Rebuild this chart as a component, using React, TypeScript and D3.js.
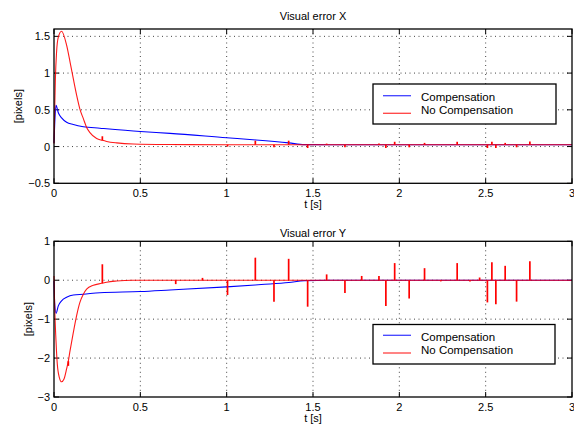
import React, { useEffect, useRef } from "react";
import * as d3 from "d3";

// time axis ticks (s)
const timeTicks = [0, 0.5, 1, 1.5, 2, 2.5, 3];
const errXTicks = [-0.5, 0, 0.5, 1, 1.5];
const errYTicks = [-3, -2, -1, 0, 1];
const seriesNames = ["Compensation", "No Compensation"];

// Visual error X, [t, pixels]
const compX: [number, number][] = [
  [0, 0.05], [0.004, 0.3], [0.0116, 0.56], [0.025, 0.46], [0.044, 0.39], [0.073, 0.33],
  [0.112, 0.3], [0.17, 0.27], [0.266, 0.25], [0.5, 0.205], [0.672, 0.18], [1.0, 0.12],
  [1.17, 0.09], [1.36, 0.05], [1.45, 0.027], [1.6, 0.025], [3.0, 0.025],
];
const noCompX: [number, number][] = [
  [0, 0.04], [0.004, 0.51], [0.008, 0.92], [0.015, 1.29], [0.025, 1.49], [0.044, 1.57],
  [0.073, 1.38], [0.093, 1.15], [0.112, 0.92], [0.131, 0.7], [0.15, 0.51], [0.17, 0.38],
  [0.189, 0.26], [0.208, 0.19], [0.247, 0.11], [0.28, 0.085], [0.305, 0.07], [0.363, 0.05],
  [0.46, 0.035], [0.67, 0.028], [1.0, 0.025], [3.0, 0.025],
];
// [t, base, peak]
const spikesX: [number, number, number][] = [
  [0.28, 0.085, 0.14], [0.705, 0.028, 0.02], [1.005, 0.025, 0.0], [1.166, 0.025, 0.08],
  [1.274, 0.025, -0.01], [1.359, 0.025, 0.08], [1.469, 0.025, -0.02], [1.579, 0.025, 0.04],
  [1.685, 0.025, -0.01], [1.882, 0.025, 0.04], [1.922, 0.025, -0.02], [1.973, 0.025, 0.065],
  [2.057, 0.025, -0.01], [2.146, 0.025, 0.05], [2.335, 0.025, 0.065], [2.51, 0.025, -0.02],
  [2.536, 0.025, 0.065], [2.559, 0.025, -0.02], [2.613, 0.025, 0.05], [2.679, 0.025, -0.01],
  [2.756, 0.025, 0.07],
];

// Visual error Y, [t, pixels]
const compY: [number, number][] = [
  [0, -0.02], [0.004, -0.6], [0.0116, -0.85], [0.025, -0.66], [0.044, -0.53], [0.073, -0.44],
  [0.112, -0.38], [0.17, -0.36], [0.266, -0.32], [0.5, -0.29], [0.672, -0.25], [1.0, -0.17],
  [1.2, -0.11], [1.36, -0.06], [1.45, -0.01], [1.6, 0], [3.0, 0],
];
const noCompY: [number, number][] = [
  [0, 0.11], [0.004, -0.7], [0.0116, -1.56], [0.019, -2.15], [0.031, -2.5], [0.044, -2.61],
  [0.058, -2.54], [0.073, -2.28], [0.082, -2.1], [0.093, -1.81], [0.112, -1.34], [0.131, -0.91],
  [0.15, -0.57], [0.17, -0.36], [0.189, -0.23], [0.228, -0.13], [0.276, -0.08], [0.305, -0.05],
  [0.363, -0.02], [0.45, 0], [3.0, 0],
];
const spikesY: [number, number, number][] = [
  [0.083, -2.08, -2.2], [0.28, -0.075, 0.41], [0.705, 0, -0.1], [0.86, 0, 0.06],
  [1.005, 0, -0.38], [1.166, 0, 0.58], [1.274, 0, -0.55], [1.359, 0, 0.55], [1.469, 0, -0.68],
  [1.579, 0, 0.15], [1.685, 0, -0.33], [1.782, 0, 0.11], [1.882, 0, 0.11], [1.922, 0, -0.66],
  [1.973, 0, 0.44], [2.057, 0, -0.47], [2.146, 0, 0.31], [2.24, 0, -0.03], [2.335, 0, 0.44],
  [2.409, 0, -0.03], [2.465, 0, 0.07], [2.51, 0, -0.57], [2.536, 0, 0.46], [2.559, 0, -0.62],
  [2.613, 0, 0.37], [2.679, 0, -0.55], [2.756, 0, 0.49],
];

const FONT = "'Liberation Sans', Arial, Helvetica, sans-serif";

const drawPanel = (svg: any, p: any) => {
  const x = d3.scaleLinear().domain([0, 3]).range([p.left, p.right]);
  const y = d3.scaleLinear().domain(p.domain).range([p.bottom, p.top]);
  const g = svg.append("g");

  // grid
  g.selectAll(".gx").data(timeTicks.slice(1, -1)).enter().append("line")
    .attr("x1", (d) => x(d)).attr("x2", (d) => x(d)).attr("y1", p.top).attr("y2", p.bottom)
    .attr("stroke", "#444").attr("stroke-dasharray", "1,3.5");
  g.selectAll(".gy").data(p.ticks.slice(1, -1).concat(p.ticks[p.ticks.length - 1] < p.domain[1] ? [p.ticks[p.ticks.length - 1]] : []))
    .enter().append("line")
    .attr("x1", p.left).attr("x2", p.right).attr("y1", (d) => y(d)).attr("y2", (d) => y(d))
    .attr("stroke", "#444").attr("stroke-dasharray", "1,3.5");

  // tick marks inside, on all four sides
  timeTicks.forEach((t) => {
    g.append("line").attr("x1", x(t)).attr("x2", x(t)).attr("y1", p.bottom).attr("y2", p.bottom - 5).attr("stroke", "#000");
    g.append("line").attr("x1", x(t)).attr("x2", x(t)).attr("y1", p.top).attr("y2", p.top + 5).attr("stroke", "#000");
  });
  p.ticks.forEach((v) => {
    g.append("line").attr("x1", p.left).attr("x2", p.left + 5).attr("y1", y(v)).attr("y2", y(v)).attr("stroke", "#000");
    g.append("line").attr("x1", p.right).attr("x2", p.right - 5).attr("y1", y(v)).attr("y2", y(v)).attr("stroke", "#000");
  });

  const line = d3.line().x((d) => x(d[0])).y((d) => y(d[1])).curve(d3.curveMonotoneX);
  g.append("path").attr("d", line(p.comp)).attr("fill", "none").attr("stroke", "#0000ff").attr("stroke-width", 1.1);
  g.append("path").attr("d", line(p.noComp)).attr("fill", "none")
    .attr("stroke", "#ff0000").attr("stroke-width", 1.1).attr("stroke-opacity", 0.9);
  // sampling glitches of the uncompensated run
  g.selectAll(".spike").data(p.spikes).enter().append("line")
    .attr("x1", (d) => x(d[0])).attr("x2", (d) => x(d[0]))
    .attr("y1", (d) => y(d[1])).attr("y2", (d) => y(d[2]))
    .attr("stroke", "#ff0000").attr("stroke-width", 1.7);

  // axes box
  g.append("rect").attr("x", p.left).attr("y", p.top).attr("width", p.right - p.left)
    .attr("height", p.bottom - p.top).attr("fill", "none").attr("stroke", "#000").attr("stroke-width", 1.3);

  // tick labels
  g.selectAll(".tx").data(timeTicks).enter().append("text")
    .attr("x", (d) => x(d)).attr("y", p.bottom + 13.5).attr("text-anchor", "middle")
    .style("font-family", FONT).style("font-size", "11px").text((d) => String(d));
  g.selectAll(".ty").data(p.ticks).enter().append("text")
    .attr("x", p.left - 4).attr("y", (d) => y(d)).attr("dy", "0.36em").attr("text-anchor", "end")
    .style("font-family", FONT).style("font-size", "11px").text((d) => String(d).replace("-", "\u2212"));

  // title and labels
  g.append("text").attr("x", (p.left + p.right) / 2).attr("y", p.titleY).attr("text-anchor", "middle")
    .style("font-family", FONT).style("font-size", "11px").text(p.title);
  g.append("text").attr("x", (p.left + p.right) / 2).attr("y", p.bottom + 24.5).attr("text-anchor", "middle")
    .style("font-family", FONT).style("font-size", "11px").text("t [s]");
  g.append("text").attr("transform", `translate(${p.ylabelX}, ${(p.top + p.bottom) / 2}) rotate(-90)`)
    .attr("text-anchor", "middle").attr("dy", "0.35em")
    .style("font-family", FONT).style("font-size", "11px").text("[pixels]");

  // legend
  const lg = p.legend;
  g.append("rect").attr("x", lg.x).attr("y", lg.y).attr("width", lg.w).attr("height", lg.h)
    .attr("fill", "#fff").attr("stroke", "#000").attr("stroke-width", 1.3);
  ["#0000ff", "#ff0000"].forEach((c, i) => {
    g.append("line").attr("x1", lg.x + 10).attr("x2", lg.x + 38).attr("y1", lg.lines[i]).attr("y2", lg.lines[i])
      .attr("stroke", c).attr("stroke-width", 1.3).attr("stroke-opacity", 0.75);
    g.append("text").attr("x", lg.x + 48).attr("y", lg.texts[i])
      .style("font-family", FONT).style("font-size", "11.5px").text(seriesNames[i]);
  });
};

const App = () => {
  const ref = useRef<SVGSVGElement>(null);

  useEffect(() => {
    const svg = d3.select(ref.current);
    svg.selectAll("*").remove();
    svg.append("rect").attr("width", 574).attr("height", 426).attr("fill", "#fff");

    drawPanel(svg, {
      left: 54, right: 572, top: 29, bottom: 183.3, domain: [-0.5, 1.6], ticks: errXTicks,
      comp: compX, noComp: noCompX, spikes: spikesX, title: "Visual error X", titleY: 20, ylabelX: 18,
      legend: { x: 373, y: 84, w: 183, h: 40, lines: [95.7, 113.3], texts: [101, 114.3] },
    });
    drawPanel(svg, {
      left: 54, right: 572, top: 241.3, bottom: 397, domain: [-3, 1], ticks: errYTicks,
      comp: compY, noComp: noCompY, spikes: spikesY, title: "Visual error Y", titleY: 237.3, ylabelX: 28.5,
      legend: { x: 373, y: 324.5, w: 182, h: 39.5, lines: [335.3, 353], texts: [341, 354.3] },
    });
  }, []);

  return (
    <svg ref={ref} width={574} height={426} style={{ position: "absolute", left: 0, top: 0 }} />
  );
};

export default App;
